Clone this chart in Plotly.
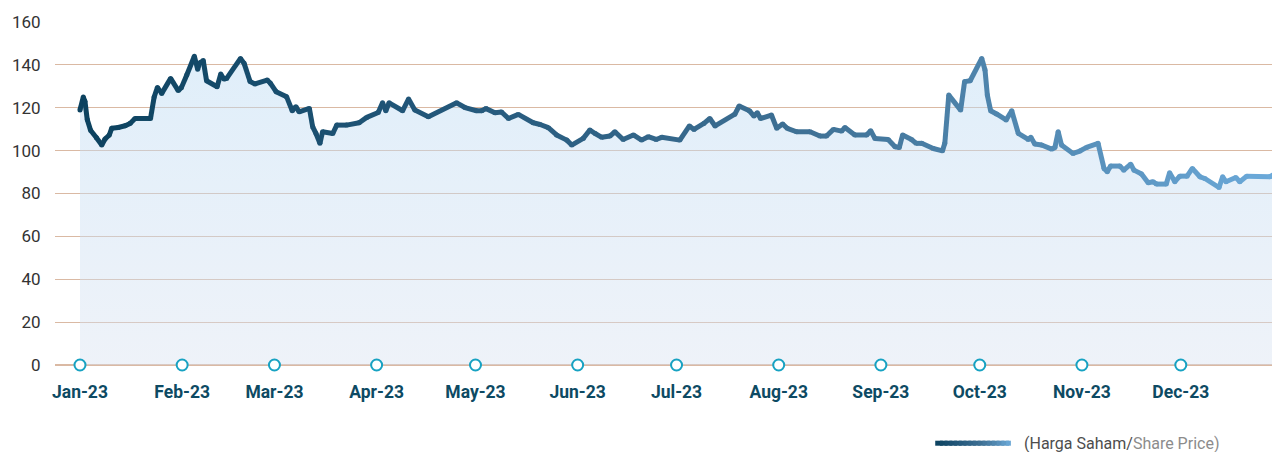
import pandas as pd
import plotly.graph_objects as go

# ---- data ----
base_date = "2023-01-01"
days = [0, 1, 1.5, 2.2, 3.2, 5, 6.6, 7.6, 8.9, 9.6, 11.6, 13.7, 15.2, 16.7, 21.4, 22.5, 23.5, 24.8,
        27.5, 29.8, 30.8, 32.4, 34.7, 35.7, 36.4, 37.4, 38.4, 41.6, 42.7, 43.7, 44.5, 48.7, 49.8,
        51.6, 53.1, 56.8, 57.8, 59.5, 62.7, 64.4, 65.5, 66.5, 69.6, 70.6, 71.6, 72.8, 73.6, 76.7,
        77.9, 80.9, 84.7, 87, 90.5, 91.8, 92.8, 93.8, 97.9, 99.7, 101.6, 105.7, 114.3, 116.8,
        120.3, 121.9, 123.2, 125.9, 127.9, 130, 133, 137.5, 139.6, 142.1, 144.6, 147.7, 149.2,
        152.7, 154.7, 156.3, 158.3, 160.8, 162.3, 164.8, 167.9, 170.4, 172.4, 174.8, 176.5, 182,
        184.9, 186.3, 189.3, 191.1, 192.7, 198.7, 200, 203.1, 204.5, 205.5, 206.5, 209.8, 211.4,
        213.2, 214.6, 217.4, 221.5, 224.5, 226.5, 228.6, 231.1, 232.1, 235.1, 238.7, 239.9,
        241.2, 245.2, 247.3, 248.6, 249.6, 252.3, 253.7, 255.4, 258.9, 261.7, 262.4, 263.6,
        267.2, 268.4, 270.1, 273.6, 274.6, 275.3, 276.3, 278.1, 281, 282.7, 284.7, 287.7, 288.5,
        289.7, 291.8, 294.8, 295.8, 296.8, 297.8, 301.3, 303.4, 305.4, 308.9, 310.7, 311.7,
        312.7, 315.5, 316.7, 318.8, 319.8, 322.1, 324.1, 325.6, 326.6, 329.6, 330.6, 332.2,
        333.7, 335.9, 337.5, 339.8, 341.3, 345.6, 346.7, 347.7, 350.7, 351.9, 354, 361, 362]
price = [119, 125, 123, 114.5, 109.5, 106, 102.6, 105.4, 107.3, 110.4, 110.8, 111.6, 112.7, 115, 115,
         125, 129.5, 126.7, 133.7, 128, 129.5, 135.3, 144, 138, 141, 142, 132.6, 129.8, 135.7,
         133.4, 133.7, 143, 140.7, 132.2, 131.1, 132.9, 131.4, 127.5, 125.1, 118.6, 120.5, 118.1,
         119.7, 111.1, 108, 103.4, 108.8, 108, 111.9, 111.9, 113, 115.5, 117.8, 122.3, 118.6,
         122.3, 118.6, 124.1, 118.9, 115.8, 122.3, 120.1, 118.6, 118.6, 119.6, 117.7, 118, 115,
         116.9, 113, 112.2, 110.7, 107.3, 104.9, 102.6, 105.7, 109.6, 108, 106.2, 106.8, 108.8,
         105.2, 107.3, 104.9, 106.5, 105.2, 106.2, 104.9, 111.5, 109.9, 112.7, 115, 111.5, 117,
         120.8, 118.6, 116.1, 117.7, 115, 116.6, 110.4, 112.4, 110.4, 108.8, 108.8, 106.8, 106.8,
         109.9, 109.1, 110.8, 107.3, 107.3, 109.3, 105.7, 105.2, 101.8, 101.5, 107.3, 105.2,
         103.4, 103.4, 101, 99.9, 103.4, 125.9, 118.9, 132.2, 132.6, 143, 137.6, 125.9, 118.6,
         117.1, 114.3, 118.6, 108, 105.2, 106.2, 103.1, 102.6, 100.7, 101.4, 108.8, 102.6, 98.7,
         99.8, 101.5, 103.4, 91.7, 90.2, 92.8, 92.8, 90.9, 93.7, 90.9, 89.1, 85, 85.5, 84.4,
         84.4, 89.7, 85.5, 88.1, 88.1, 91.7, 87.8, 87, 82.8, 87.8, 85.5, 87.5, 85.5, 88.1, 87.8,
         88.6]
month_ticks = ["2023-01-01", "2023-02-01", "2023-03-01", "2023-04-01", "2023-05-01", "2023-06-01",
               "2023-07-01", "2023-08-01", "2023-09-01", "2023-10-01", "2023-11-01", "2023-12-01"]
month_labels = ["Jan-23", "Feb-23", "Mar-23", "Apr-23", "May-23", "Jun-23",
                "Jul-23", "Aug-23", "Sep-23", "Oct-23", "Nov-23", "Dec-23"]
y_ticks = [0, 20, 40, 60, 80, 100, 120, 140, 160]
series_name = "(Harga Saham/"
series_name_en = "Share Price)"

dates = pd.Timestamp(base_date) + pd.to_timedelta(days, unit="D")

# gradient stops for the line (fraction -> rgb)
grad = [(0.0, (12, 66, 95)), (0.3, (35, 87, 122)), (0.6, (62, 112, 148)),
        (0.8, (82, 137, 178)), (1.0, (108, 170, 218))]


def color_at(f):
    f = min(max(f, 0), 1)
    for (f0, c0), (f1, c1) in zip(grad[:-1], grad[1:]):
        if f <= f1:
            t = (f - f0) / (f1 - f0) if f1 > f0 else 0
            c = [round(a + (b - a) * t) for a, b in zip(c0, c1)]
            return f"rgb({c[0]},{c[1]},{c[2]})"
    c = grad[-1][1]
    return f"rgb({c[0]},{c[1]},{c[2]})"


fig = go.Figure()

# area fill with vertical gradient
fig.add_trace(go.Scatter(
    x=dates, y=price, mode="lines", line=dict(width=0),
    fill="tozeroy",
    fillgradient=dict(type="vertical", start=0, stop=145,
                      colorscale=[[0, "rgba(215,225,240,0.42)"], [1, "rgba(188,219,244,0.47)"]]),
    hoverinfo="skip", showlegend=False,
))

# gradient line built from segments
span = days[-1] - days[0]
for i in range(len(days) - 1):
    f = ((days[i] + days[i + 1]) / 2 - days[0]) / span
    fig.add_trace(go.Scatter(
        x=dates[i:i + 2], y=price[i:i + 2], mode="lines",
        line=dict(color=color_at(f), width=5),
        hoverinfo="skip", showlegend=False,
    ))
# joints
fig.add_trace(go.Scatter(
    x=dates, y=price, mode="markers",
    marker=dict(size=5, color=[color_at((d - days[0]) / span) for d in days], line=dict(width=0)),
    hoverinfo="skip", showlegend=False,
))

# month markers on the zero line
fig.add_trace(go.Scatter(
    x=month_ticks, y=[0] * len(month_ticks), mode="markers",
    marker=dict(size=11, color="white", line=dict(color="#17a2c2", width=2)),
    cliponaxis=False, hoverinfo="skip", showlegend=False,
))

# legend: gradient line + text
lx0, lx1, ly = 0.7215, 0.7835, -0.228
nseg = 16
step = (lx1 - lx0) / nseg
for k in range(nseg):
    a = lx0 + step * k
    b = min(lx0 + step * (k + 1.6), lx1)
    fig.add_shape(type="line", xref="paper", yref="paper", x0=a, x1=b, y0=ly, y1=ly,
                  line=dict(color=color_at((k + 0.5) / nseg), width=5), layer="above")
fig.add_annotation(
    xref="paper", yref="paper", x=0.7925, y=ly, xanchor="left", yanchor="middle",
    showarrow=False,
    text=f"{series_name}<span style='color:#8c8c8c'>{series_name_en}</span>",
    font=dict(family="Roboto", size=16, color="#4d4d4d"),
)

fig.update_layout(
    width=1272, height=444,
    margin=dict(l=47, r=5, t=14, b=87),
    paper_bgcolor="white", plot_bgcolor="white",
    showlegend=False,
    font=dict(family="Roboto"),
)
fig.update_xaxes(
    type="date",
    range=["2022-12-24 10:00", "2023-12-29 14:00"],
    tickvals=month_ticks, ticktext=month_labels,
    tickfont=dict(family="Roboto", size=17.5, color="#0d4a63", weight="bold"),
    showgrid=False, zeroline=False, showline=False,
    ticks="outside", ticklen=11, tickcolor="rgba(0,0,0,0)",
)
fig.update_yaxes(
    range=[0, 160], tickvals=y_ticks,
    tickfont=dict(family="Roboto", size=17, color="#333333"),
    showgrid=True, gridcolor="#dab9a3", gridwidth=1,
    zeroline=True, zerolinecolor="#dab9a3", zerolinewidth=1.5,
    showline=False, ticks="outside", ticklen=10, tickcolor="rgba(0,0,0,0)",
)

fig.write_html("out.html")
